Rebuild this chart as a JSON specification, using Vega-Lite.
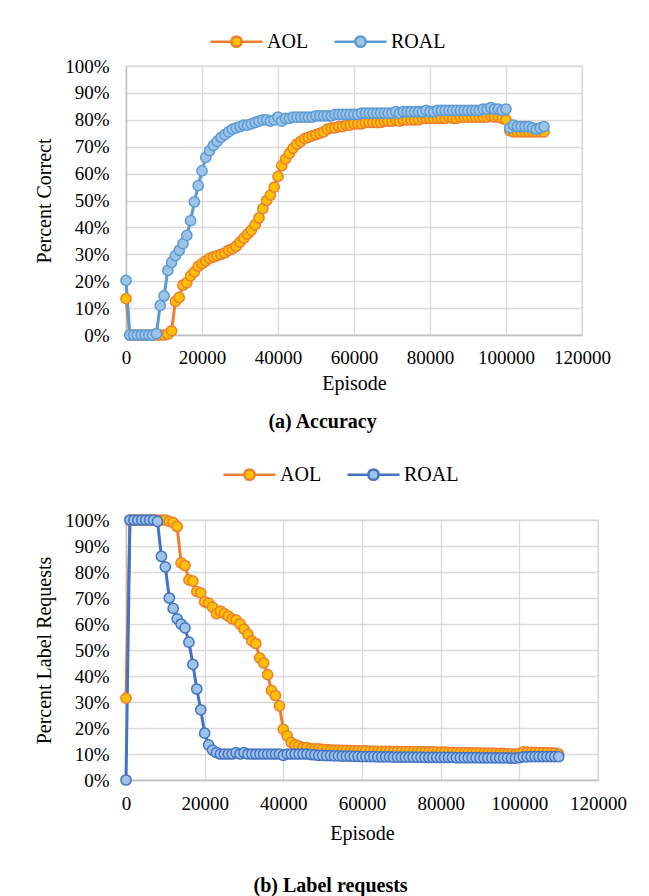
{
  "$schema": "https://vega.github.io/schema/vega-lite/v6.json",
  "padding": {"left": 34, "top": 13, "right": 5, "bottom": 5},
  "spacing": 13,
  "resolve": {"scale": {"stroke": "independent", "fill": "independent"}, "legend": {"stroke": "independent", "fill": "independent"}},
  "config": {
    "font": "Liberation Serif",
    "view": {"stroke": "#d9d9d9", "strokeWidth": 1.3},
    "axis": {"labelFont": "Liberation Serif", "titleFont": "Liberation Serif", "labelFontSize": 19, "titleFontSize": 20, "titleFontWeight": "normal", "labelColor": "#000000", "titleColor": "#000000", "gridColor": "#d9d9d9", "gridWidth": 1.3, "domainColor": "#bfbfbf", "domainWidth": 1.3, "ticks": false, "labelOverlap": false, "labelFlush": false},
    "legend": {"orient": "none", "direction": "horizontal", "title": null, "labelFont": "Liberation Serif", "labelFontSize": 20, "labelColor": "#000000", "symbolType": "M-1,0L-0.2,0M0.2,0L1,0M0.2,0A0.2,0.2,0,1,1,-0.2,0A0.2,0.2,0,1,1,0.2,0Z", "symbolSize": 2704, "symbolStrokeWidth": 2.5, "labelOffset": 3, "columnPadding": 20},
    "title": {"font": "Liberation Serif", "fontSize": 20, "fontWeight": "bold", "color": "#000000"}
  },
  "datasets": {
    "acc": [
      {"e":0,"AOL":13.5,"ROAL":20.3},{"e":1000,"AOL":0,"ROAL":0},{"e":2000,"AOL":0,"ROAL":0},{"e":3000,"AOL":0,"ROAL":0},{"e":4000,"AOL":0,"ROAL":0},{"e":5000,"AOL":0,"ROAL":0},{"e":6000,"AOL":0,"ROAL":0},{"e":7000,"AOL":0,"ROAL":0},{"e":8000,"AOL":0,"ROAL":0.5},{"e":9000,"AOL":0,"ROAL":11},
      {"e":10000,"AOL":0,"ROAL":14.5},{"e":11000,"AOL":0.3,"ROAL":24},{"e":12000,"AOL":1.5,"ROAL":27},{"e":13000,"AOL":12.5,"ROAL":29.5},{"e":14000,"AOL":14,"ROAL":31.5},{"e":15000,"AOL":18.5,"ROAL":34},{"e":16000,"AOL":19.5,"ROAL":37},{"e":17000,"AOL":22,"ROAL":42.5},{"e":18000,"AOL":23.5,"ROAL":49.5},{"e":19000,"AOL":25.5,"ROAL":55.5},
      {"e":20000,"AOL":26.5,"ROAL":61},{"e":21000,"AOL":27.5,"ROAL":66},{"e":22000,"AOL":28.5,"ROAL":68.5},{"e":23000,"AOL":29,"ROAL":70.5},{"e":24000,"AOL":29.5,"ROAL":72},{"e":25000,"AOL":30,"ROAL":73.5},{"e":26000,"AOL":30.5,"ROAL":74.5},{"e":27000,"AOL":31.5,"ROAL":75.5},{"e":28000,"AOL":32,"ROAL":76.5},{"e":29000,"AOL":33,"ROAL":77},
      {"e":30000,"AOL":34.5,"ROAL":77.5},{"e":31000,"AOL":36,"ROAL":78},{"e":32000,"AOL":37.5,"ROAL":78},{"e":33000,"AOL":39,"ROAL":78.5},{"e":34000,"AOL":41,"ROAL":79},{"e":35000,"AOL":43.5,"ROAL":79.5},{"e":36000,"AOL":47,"ROAL":80},{"e":37000,"AOL":50,"ROAL":80},{"e":38000,"AOL":52,"ROAL":79.5},{"e":39000,"AOL":55,"ROAL":80},
      {"e":40000,"AOL":59,"ROAL":81},{"e":41000,"AOL":63,"ROAL":79.5},{"e":42000,"AOL":65.5,"ROAL":80.5},{"e":43000,"AOL":67.5,"ROAL":80.5},{"e":44000,"AOL":69.5,"ROAL":81},{"e":45000,"AOL":71,"ROAL":81},{"e":46000,"AOL":72,"ROAL":81},{"e":47000,"AOL":73,"ROAL":81},{"e":48000,"AOL":73.5,"ROAL":81},{"e":49000,"AOL":74,"ROAL":81},
      {"e":50000,"AOL":74.5,"ROAL":81.5},{"e":51000,"AOL":75,"ROAL":81.5},{"e":52000,"AOL":75.5,"ROAL":81.5},{"e":53000,"AOL":76.5,"ROAL":81.5},{"e":54000,"AOL":77,"ROAL":81.5},{"e":55000,"AOL":77,"ROAL":82},{"e":56000,"AOL":77.5,"ROAL":82},{"e":57000,"AOL":77.5,"ROAL":82},{"e":58000,"AOL":78,"ROAL":82},{"e":59000,"AOL":78,"ROAL":82},
      {"e":60000,"AOL":78.5,"ROAL":82},{"e":61000,"AOL":78.5,"ROAL":82},{"e":62000,"AOL":78.5,"ROAL":82.5},{"e":63000,"AOL":79,"ROAL":82.5},{"e":64000,"AOL":79,"ROAL":82.5},{"e":65000,"AOL":79,"ROAL":82.5},{"e":66000,"AOL":79,"ROAL":82.5},{"e":67000,"AOL":79,"ROAL":82.5},{"e":68000,"AOL":79.5,"ROAL":82.5},{"e":69000,"AOL":79.5,"ROAL":82.5},
      {"e":70000,"AOL":79.5,"ROAL":82.5},{"e":71000,"AOL":80,"ROAL":83},{"e":72000,"AOL":79.5,"ROAL":82.5},{"e":73000,"AOL":80,"ROAL":83},{"e":74000,"AOL":80,"ROAL":83},{"e":75000,"AOL":80,"ROAL":83},{"e":76000,"AOL":80,"ROAL":83},{"e":77000,"AOL":80,"ROAL":83},{"e":78000,"AOL":80.5,"ROAL":83},{"e":79000,"AOL":80.5,"ROAL":83.5},
      {"e":80000,"AOL":80.5,"ROAL":83},{"e":81000,"AOL":80.5,"ROAL":83},{"e":82000,"AOL":80.5,"ROAL":83.5},{"e":83000,"AOL":80.5,"ROAL":83.5},{"e":84000,"AOL":80.5,"ROAL":83.5},{"e":85000,"AOL":81,"ROAL":83.5},{"e":86000,"AOL":80.5,"ROAL":83.5},{"e":87000,"AOL":80.5,"ROAL":83.5},{"e":88000,"AOL":81,"ROAL":83.5},{"e":89000,"AOL":81,"ROAL":83.5},
      {"e":90000,"AOL":81,"ROAL":83.5},{"e":91000,"AOL":81,"ROAL":83.5},{"e":92000,"AOL":81,"ROAL":83.5},{"e":93000,"AOL":81,"ROAL":83.5},{"e":94000,"AOL":81,"ROAL":84},{"e":95000,"AOL":81,"ROAL":84},{"e":96000,"AOL":81.5,"ROAL":84.5},{"e":97000,"AOL":81,"ROAL":84},{"e":98000,"AOL":81,"ROAL":84},{"e":99000,"AOL":80.5,"ROAL":83.5},
      {"e":100000,"AOL":80,"ROAL":84},{"e":101000,"AOL":76,"ROAL":77},{"e":102000,"AOL":75.5,"ROAL":78},{"e":103000,"AOL":75.5,"ROAL":77.5},{"e":104000,"AOL":75.5,"ROAL":77.5},{"e":105000,"AOL":75.5,"ROAL":77.5},{"e":106000,"AOL":75.5,"ROAL":77.5},{"e":107000,"AOL":75.5,"ROAL":77},{"e":108000,"AOL":75.5,"ROAL":76.5},{"e":109000,"AOL":75.5,"ROAL":77},
      {"e":110000,"AOL":75.5,"ROAL":77.5}
    ],
    "lab": [
      {"e":0,"AOL":31.5,"ROAL":0},{"e":1000,"AOL":100,"ROAL":100},{"e":2000,"AOL":100,"ROAL":100},{"e":3000,"AOL":100,"ROAL":100},{"e":4000,"AOL":100,"ROAL":100},{"e":5000,"AOL":100,"ROAL":100},{"e":6000,"AOL":100,"ROAL":100},{"e":7000,"AOL":100,"ROAL":100},{"e":8000,"AOL":100,"ROAL":99.5},{"e":9000,"AOL":100,"ROAL":86},
      {"e":10000,"AOL":100,"ROAL":82},{"e":11000,"AOL":99.5,"ROAL":70},{"e":12000,"AOL":99,"ROAL":66},{"e":13000,"AOL":97.5,"ROAL":62},{"e":14000,"AOL":83.5,"ROAL":60},{"e":15000,"AOL":82.5,"ROAL":58.5},{"e":16000,"AOL":77,"ROAL":53},{"e":17000,"AOL":76.5,"ROAL":44.5},{"e":18000,"AOL":72.5,"ROAL":35},{"e":19000,"AOL":72,"ROAL":27},
      {"e":20000,"AOL":68.5,"ROAL":18},{"e":21000,"AOL":68,"ROAL":13.5},{"e":22000,"AOL":66.5,"ROAL":11.5},{"e":23000,"AOL":64,"ROAL":10.5},{"e":24000,"AOL":65,"ROAL":10},{"e":25000,"AOL":64,"ROAL":10},{"e":26000,"AOL":63,"ROAL":10},{"e":27000,"AOL":62,"ROAL":10},{"e":28000,"AOL":61.5,"ROAL":10.5},{"e":29000,"AOL":60,"ROAL":10},
      {"e":30000,"AOL":58,"ROAL":10.5},{"e":31000,"AOL":56,"ROAL":10},{"e":32000,"AOL":53.5,"ROAL":10},{"e":33000,"AOL":52.5,"ROAL":10},{"e":34000,"AOL":47,"ROAL":10},{"e":35000,"AOL":45,"ROAL":10},{"e":36000,"AOL":40.5,"ROAL":10},{"e":37000,"AOL":34.5,"ROAL":10},{"e":38000,"AOL":32.5,"ROAL":10},{"e":39000,"AOL":28.5,"ROAL":10},
      {"e":40000,"AOL":19.5,"ROAL":9.5},{"e":41000,"AOL":17,"ROAL":10},{"e":42000,"AOL":14.5,"ROAL":10},{"e":43000,"AOL":13.5,"ROAL":10},{"e":44000,"AOL":13,"ROAL":10},{"e":45000,"AOL":12.5,"ROAL":10},{"e":46000,"AOL":12.5,"ROAL":10},{"e":47000,"AOL":12,"ROAL":9.8},{"e":48000,"AOL":12,"ROAL":9.7},{"e":49000,"AOL":12,"ROAL":9.5},
      {"e":50000,"AOL":11.8,"ROAL":9.5},{"e":51000,"AOL":11.7,"ROAL":9.4},{"e":52000,"AOL":11.6,"ROAL":9.4},{"e":53000,"AOL":11.5,"ROAL":9.3},{"e":54000,"AOL":11.5,"ROAL":9.3},{"e":55000,"AOL":11.4,"ROAL":9.2},{"e":56000,"AOL":11.4,"ROAL":9.2},{"e":57000,"AOL":11.3,"ROAL":9.2},{"e":58000,"AOL":11.3,"ROAL":9.1},{"e":59000,"AOL":11.2,"ROAL":9.1},
      {"e":60000,"AOL":11.2,"ROAL":9.0},{"e":61000,"AOL":11.2,"ROAL":9.0},{"e":62000,"AOL":11.1,"ROAL":9.0},{"e":63000,"AOL":11.1,"ROAL":9.0},{"e":64000,"AOL":11.0,"ROAL":8.9},{"e":65000,"AOL":11.0,"ROAL":8.9},{"e":66000,"AOL":11.0,"ROAL":8.9},{"e":67000,"AOL":11.0,"ROAL":8.9},{"e":68000,"AOL":10.9,"ROAL":8.8},{"e":69000,"AOL":11.0,"ROAL":8.8},
      {"e":70000,"AOL":10.9,"ROAL":8.8},{"e":71000,"AOL":10.9,"ROAL":8.8},{"e":72000,"AOL":10.9,"ROAL":8.8},{"e":73000,"AOL":10.9,"ROAL":8.8},{"e":74000,"AOL":10.8,"ROAL":8.8},{"e":75000,"AOL":10.9,"ROAL":8.8},{"e":76000,"AOL":10.8,"ROAL":8.7},{"e":77000,"AOL":10.8,"ROAL":8.7},{"e":78000,"AOL":10.8,"ROAL":8.7},{"e":79000,"AOL":10.7,"ROAL":8.7},
      {"e":80000,"AOL":10.7,"ROAL":8.7},{"e":81000,"AOL":10.7,"ROAL":8.7},{"e":82000,"AOL":10.6,"ROAL":8.7},{"e":83000,"AOL":10.6,"ROAL":8.7},{"e":84000,"AOL":10.5,"ROAL":8.6},{"e":85000,"AOL":10.5,"ROAL":8.6},{"e":86000,"AOL":10.5,"ROAL":8.6},{"e":87000,"AOL":10.5,"ROAL":8.6},{"e":88000,"AOL":10.4,"ROAL":8.6},{"e":89000,"AOL":10.4,"ROAL":8.6},
      {"e":90000,"AOL":10.4,"ROAL":8.5},{"e":91000,"AOL":10.3,"ROAL":8.5},{"e":92000,"AOL":10.3,"ROAL":8.5},{"e":93000,"AOL":10.3,"ROAL":8.5},{"e":94000,"AOL":10.2,"ROAL":8.5},{"e":95000,"AOL":10.2,"ROAL":8.5},{"e":96000,"AOL":10.2,"ROAL":8.5},{"e":97000,"AOL":10.1,"ROAL":8.5},{"e":98000,"AOL":10.0,"ROAL":8.4},{"e":99000,"AOL":10.0,"ROAL":8.4},
      {"e":100000,"AOL":10.2,"ROAL":8.6},{"e":101000,"AOL":10.8,"ROAL":8.9},{"e":102000,"AOL":10.7,"ROAL":8.9},{"e":103000,"AOL":10.6,"ROAL":9.0},{"e":104000,"AOL":10.6,"ROAL":9.0},{"e":105000,"AOL":10.5,"ROAL":9.0},{"e":106000,"AOL":10.5,"ROAL":9.0},{"e":107000,"AOL":10.5,"ROAL":9.0},{"e":108000,"AOL":10.4,"ROAL":9.0},{"e":109000,"AOL":10.3,"ROAL":9.0},
      {"e":110000,"AOL":10.0,"ROAL":9.0}
    ]
  },
  "vconcat": [
    {
      "width": 456,
      "height": 269,
      "data": {"name": "acc"},
      "transform": [{"fold": ["AOL", "ROAL"], "as": ["series", "value"]}],
      "title": {"text": "(a) Accuracy", "orient": "bottom", "anchor": "middle", "frame": "bounds", "offset": 19},
      "encoding": {
        "x": {"field": "e", "type": "quantitative", "scale": {"domain": [0, 120000], "nice": false, "zero": true}, "axis": {"values": [0, 20000, 40000, 60000, 80000, 100000, 120000], "format": "d", "title": "Episode", "labelPadding": 13, "titlePadding": 6}},
        "y": {"field": "value", "type": "quantitative", "scale": {"domain": [0, 100], "nice": false}, "axis": {"values": [0, 10, 20, 30, 40, 50, 60, 70, 80, 90, 100], "labelExpr": "datum.value + '%'", "title": "Percent Correct", "labelPadding": 17, "titlePadding": 10}}
      },
      "layer": [
        {
          "mark": {"type": "line", "strokeWidth": 3},
          "encoding": {"stroke": {"field": "series", "type": "nominal", "scale": {"domain": ["AOL", "ROAL"], "range": ["#ED7D31", "#5B9BD5"]}, "legend": {"legendX": 83, "legendY": -52}}}
        },
        {
          "mark": {"type": "point", "filled": true, "shape": "circle", "size": 105, "strokeWidth": 1.5, "opacity": 1},
          "encoding": {
            "fill": {"field": "series", "type": "nominal", "scale": {"domain": ["AOL", "ROAL"], "range": ["#FFC000", "#9DC3E6"]}, "legend": {"legendX": 83, "legendY": -52}},
            "stroke": {"field": "series", "type": "nominal"},
            "order": {"field": "series", "type": "nominal"}
          }
        }
      ]
    },
    {
      "width": 472,
      "height": 260,
      "data": {"name": "lab"},
      "transform": [{"fold": ["AOL", "ROAL"], "as": ["series", "value"]}],
      "title": {"text": "(b) Label requests", "orient": "bottom", "anchor": "middle", "frame": "bounds", "offset": 33},
      "encoding": {
        "x": {"field": "e", "type": "quantitative", "scale": {"domain": [0, 120000], "nice": false, "zero": true}, "axis": {"values": [0, 20000, 40000, 60000, 80000, 100000, 120000], "format": "d", "title": "Episode", "labelPadding": 14, "titlePadding": 10}},
        "y": {"field": "value", "type": "quantitative", "scale": {"domain": [0, 100], "nice": false}, "axis": {"values": [0, 10, 20, 30, 40, 50, 60, 70, 80, 90, 100], "labelExpr": "datum.value + '%'", "title": "Percent Label Requests", "labelPadding": 17, "titlePadding": 10}}
      },
      "layer": [
        {
          "mark": {"type": "line", "strokeWidth": 3},
          "encoding": {"stroke": {"field": "series", "type": "nominal", "scale": {"domain": ["AOL", "ROAL"], "range": ["#ED7D31", "#4472C4"]}, "legend": {"legendX": 96, "legendY": -73}}}
        },
        {
          "mark": {"type": "point", "filled": true, "shape": "circle", "size": 105, "strokeWidth": 1.5, "opacity": 1},
          "encoding": {
            "fill": {"field": "series", "type": "nominal", "scale": {"domain": ["AOL", "ROAL"], "range": ["#FFC000", "#9DC3E6"]}, "legend": {"legendX": 96, "legendY": -73}},
            "stroke": {"field": "series", "type": "nominal"},
            "order": {"field": "series", "type": "nominal"}
          }
        }
      ]
    }
  ]
}
